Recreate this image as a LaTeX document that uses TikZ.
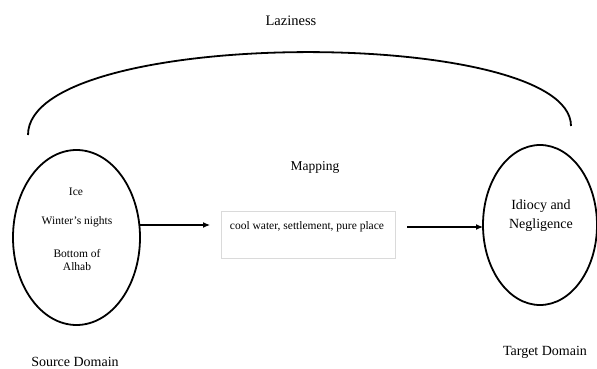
\documentclass[tikz,border=0pt]{standalone}
\usepackage{fontspec}
\setmainfont{Liberation Serif}
\usetikzlibrary{arrows.meta}
\begin{document}
\begin{tikzpicture}[x=1pt,y=-1pt,
  every node/.style={font=\fontsize{11.5}{13}\selectfont, inner sep=0pt},
  bigtext/.style={font=\fontsize{14}{19}\selectfont},
  flow/.style={line width=1.1pt, -{Latex[length=7pt,width=6pt]}},
  mapbox/.style={draw={rgb,255:red,218;green,218;blue,218}, line width=0.9pt},
  label/.style={align=center}]
\useasboundingbox (0,0) rectangle (597,369);

% source and target domains
\draw[line width=1.8pt] (76.5,237.5) ellipse [x radius=63.5, y radius=87.5];
\draw[line width=1.8pt] (540,225) ellipse [x radius=57, y radius=80];
\coordinate (srcE) at (140,225);
\coordinate (tgtW) at (483,227);
\node[label] (ice) at (76,192) {Ice};
\node[label] (winter) at (77,222) {Winter's nights};
\node[label, text depth=0pt] (bottom) at (77,260) {Bottom of\\Alhab};
\node[label, bigtext] (idiocy) at (541,216) {Idiocy and\\Negligence};

% mapping box
\draw[mapbox] (221,211) rectangle (395,258);
\coordinate (boxW) at (221,225);
\coordinate (boxE) at (407,227);
\node (map) at (307,227) {cool water, settlement, pure place};
\node[font=\fontsize{13.5}{16}\selectfont] (mapping) at (315,167) {Mapping};

% arrows
\draw[flow] (srcE) -- (210,225);
\draw[flow] (boxE) -- (tgtW);

% arc over the whole mapping
\coordinate (arcL) at (28,135);
\coordinate (arcR) at (571,126);
\draw[line width=1.8pt] (arcL) .. controls (28,26) and (571,26) .. (arcR);
\node[font=\fontsize{14.5}{17}\selectfont] (lazy) at (291,21) {Laziness};

% domain captions
\node[bigtext] (src) at (75,362) {Source Domain};
\node[bigtext] (tgt) at (545,352) {Target Domain};
\end{tikzpicture}
\end{document}
